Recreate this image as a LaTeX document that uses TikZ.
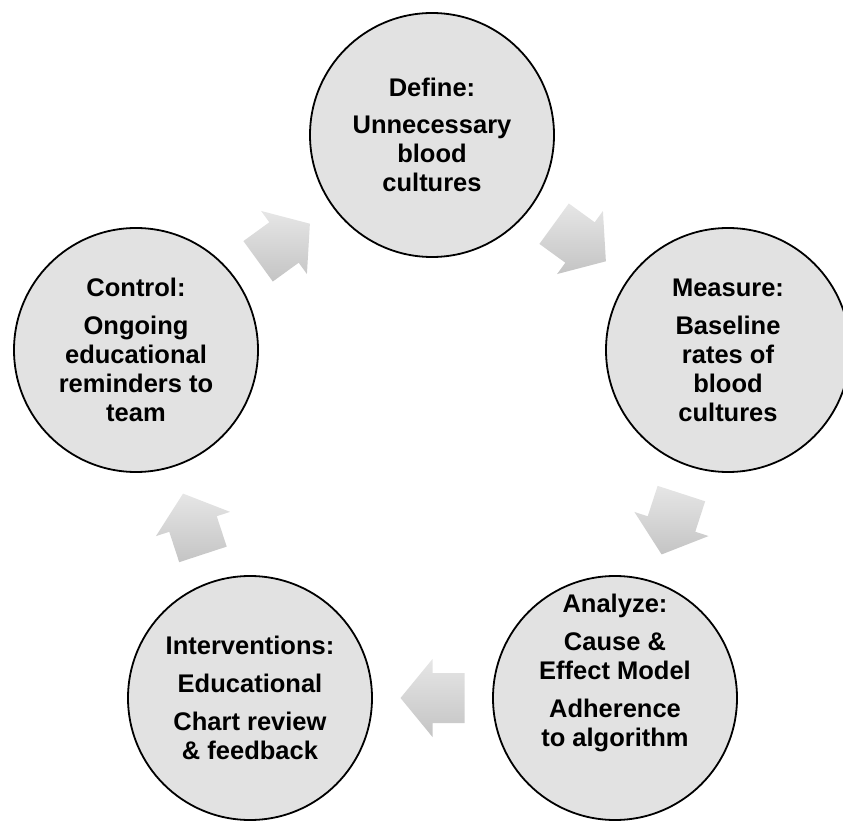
\documentclass[tikz,border=0pt]{standalone}
\usepackage{fontspec}
\setmainfont{Liberation Sans}
\usetikzlibrary{calc}
\definecolor{phasefill}{RGB}{226,226,226}
\definecolor{arrowtop}{RGB}{230,230,230}
\definecolor{arrowbottom}{RGB}{196,196,196}

\begin{document}
\begin{tikzpicture}[x=1pt,y=1pt,
	phase/.style={circle,draw=black,line width=1.8pt,fill=phasefill,minimum size=244pt,inner sep=0pt},
	phasetext/.style={align=center,font=\fontsize{25.5}{29}\selectfont\bfseries},
	cyclearrow/.style={top color=arrowtop,bottom color=arrowbottom,draw=none}]
	\useasboundingbox (0,0) rectangle (843,823);
	\node[phase,label={[phasetext]center:{Define:\\[8pt]Unnecessary\\blood\\cultures}}] (def) at (432,688) {};
	\node[phase,label={[phasetext]center:{Measure:\\[9pt]Baseline\\rates of\\blood\\cultures}}] (mea) at (728,473) {};
	\node[phase,label={[phasetext,yshift=25pt]center:{Analyze:\\[9pt]Cause \&\\Effect Model\\[9pt]Adherence\\to algorithm}}] (ana) at (615,125) {};
	\node[phase,label={[phasetext]center:{Interventions:\\[9pt]Educational\\[9pt]Chart review\\\& feedback}}] (int) at (250,125) {};
	\node[phase,label={[phasetext]center:{Control:\\[9pt]Ongoing\\educational\\reminders to\\team}}] (con) at (136,473) {};
	\foreach \a/\b in {def/mea,mea/ana,ana/int,int/con,con/def}
		\shade[cyclearrow] let \p1=($(\b)-(\a)$), \n1={atan2(\y1,\x1)} in
			[shift={($(\a)!.5!(\b)$)},rotate=\n1] (-32,-25) -- (0,-25) -- (0,-39) -- (32,0) -- (0,39) -- (0,25) -- (-32,25) -- cycle;
\end{tikzpicture}
\end{document}
